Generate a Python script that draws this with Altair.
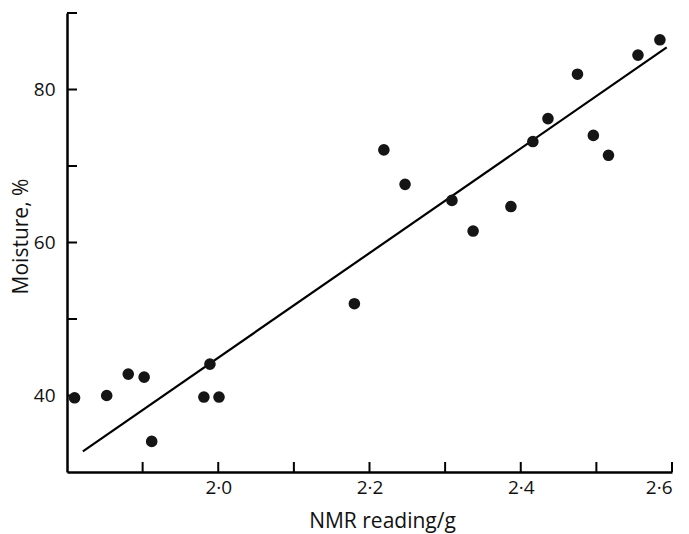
import altair as alt
import pandas as pd

# Data
nmr = [1.810, 1.8525, 1.881, 1.902, 1.912, 1.981, 1.989, 2.001, 2.180, 2.219, 2.247,
       2.309, 2.337, 2.387, 2.416, 2.436, 2.475, 2.496, 2.516, 2.555, 2.584]
moisture = [39.7, 40.0, 42.8, 42.4, 34.0, 39.8, 44.1, 39.8, 52.0, 72.1, 67.6,
            65.5, 61.5, 64.7, 73.2, 76.2, 82.0, 74.0, 71.4, 84.5, 86.5]
fit_x = [1.821, 2.593]
fit_y = [32.7, 85.5]
x_ticks = [1.9, 2.0, 2.1, 2.2, 2.3, 2.4, 2.5, 2.6]
y_ticks = [40, 50, 60, 70, 80, 90]
x_labels = [2.0, 2.2, 2.4, 2.6]
y_labels = [40, 60, 80]

W, H = 605, 459
FONT = "Open Sans"

pts = pd.DataFrame({"nmr": nmr, "moisture": moisture})
fit = pd.DataFrame({"nmr": fit_x, "moisture": fit_y})
xt = pd.DataFrame({"nmr": x_ticks})
yt = pd.DataFrame({"moisture": y_ticks})

xs = alt.Scale(domain=[1.8, 2.6], nice=False, zero=False)
ys = alt.Scale(domain=[30, 90], nice=False, zero=False)

x_axis = alt.Axis(
    values=x_labels, ticks=False, tickSize=0, grid=False,
    domainColor="black", domainWidth=2.5,
    labelExpr="replace(format(datum.value, '.1f'), '.', '·')",
    labelFont=FONT, labelFontSize=19, labelColor="#111", labelPadding=6,
    title="NMR reading/g", titleFont=FONT, titleFontSize=21, titleFontWeight="normal",
    titleColor="#111", titleX=315, titleY=55, titleBaseline="alphabetic", titleAlign="center",
)
y_axis = alt.Axis(
    values=y_labels, ticks=False, tickSize=0, grid=False,
    domainColor="black", domainWidth=2.5,
    labelFont=FONT, labelFontSize=19, labelColor="#111", labelPadding=12,
    title="Moisture, %", titleFont=FONT, titleFontSize=21, titleFontWeight="normal",
    titleColor="#111", titleX=-40, titleY=223, titleAngle=-90,
    titleBaseline="alphabetic", titleAlign="center",
)

X = alt.X("nmr:Q", scale=xs, axis=x_axis, title="NMR reading/g")
Y = alt.Y("moisture:Q", scale=ys, axis=y_axis, title="Moisture, %")

line = alt.Chart(fit).mark_line(color="black", strokeWidth=2.2).encode(x=X, y=Y)

points = alt.Chart(pts).mark_circle(size=135, color="#151515", opacity=1).encode(x=X, y=Y)

xtick = alt.Chart(xt).mark_rule(color="black", strokeWidth=2).encode(
    x=X,
    y=alt.value(H),
    y2=alt.value(H - 10),
)

ytick = alt.Chart(yt).mark_rule(color="black", strokeWidth=2).encode(
    y=Y,
    x=alt.value(0),
    x2=alt.value(10),
)

chart = alt.layer(line, xtick, ytick, points).properties(
    width=W, height=H,
    autosize=alt.AutoSizeParams(type="none"),
    padding={"left": 67, "top": 13, "right": 17, "bottom": 62},
    background="white",
).configure_view(stroke=None)

chart.save("out.html", embed_options={"renderer": "svg", "actions": False})
